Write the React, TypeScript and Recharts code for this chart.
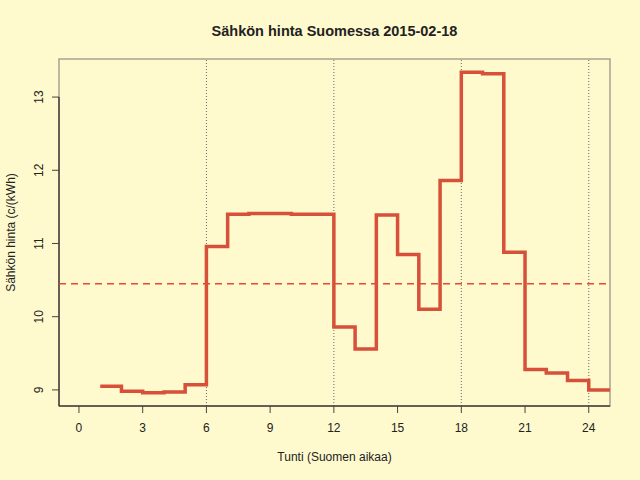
import React from "react";
import { LineChart, Line, XAxis, YAxis, ReferenceLine, ReferenceArea } from "recharts";

const hours = [1, 2, 3, 4, 5, 6, 7, 8, 9, 10, 11, 12, 13, 14, 15, 16, 17, 18, 19, 20, 21, 22, 23, 24, 25];
const prices = [
  9.05, 8.98, 8.96, 8.97, 9.07, 10.96, 11.4, 11.41, 11.41, 11.4, 11.4, 9.86,
  9.56, 11.39, 10.85, 10.1, 11.86, 13.34, 13.32, 10.88, 9.28, 9.23, 9.13, 9.0, 9.0,
];
const xTicks = [0, 3, 6, 9, 12, 15, 18, 21, 24];
const yTicks = [9, 10, 11, 12, 13];
const dottedHours = [6, 12, 18, 24];
const meanPrice = 10.45;
const titleText = "Sähkön hinta Suomessa 2015-02-18";
const xLabelText = "Tunti (Suomen aikaa)";
const yLabelText = "Sähkön hinta (c/(kWh)";

const X_DOMAIN: [number, number] = [-0.94, 25];
const Y_DOMAIN: [number, number] = [8.78, 13.52];

const data = hours.map((h, i) => ({ hour: h, price: prices[i] }));

const FONT = "'Liberation Sans', Arial, Helvetica, sans-serif";
const TEXT = "#222";
const DARK = "#4a423c";
const GRAY = "#a8a28e";
const BG = "#FFFACD";

const XTick = (props: any) => {
  const { x, payload } = props;
  return (
    <text x={x} y={432} textAnchor="middle" fontSize={12} fontFamily={FONT} fill={TEXT}>
      {payload.value}
    </text>
  );
};

const YTick = (props: any) => {
  const { y, payload } = props;
  return (
    <text
      x={43}
      y={y}
      textAnchor="middle"
      fontSize={12}
      fontFamily={FONT}
      fill={TEXT}
      transform={`rotate(-90, 43, ${y})`}
    >
      {payload.value}
    </text>
  );
};

export default function App() {
  return (
    <div style={{ position: "absolute", left: 0, top: 0, width: 640, height: 480, background: BG }}>
      <LineChart width={640} height={480} data={data} margin={{ top: 59, right: 30, left: 0, bottom: 0 }}>
        <ReferenceArea
          x1={X_DOMAIN[0]}
          x2={X_DOMAIN[1]}
          y1={Y_DOMAIN[0]}
          y2={Y_DOMAIN[1]}
          fill="none"
          fillOpacity={0}
          stroke={GRAY}
          strokeWidth={1.5}
          ifOverflow="visible"
        />
        <XAxis
          dataKey="hour"
          type="number"
          domain={X_DOMAIN}
          ticks={xTicks}
          interval={0}
          allowDataOverflow
          height={74}
          tickSize={7}
          axisLine={{ stroke: DARK, strokeWidth: 1.5 }}
          tickLine={{ stroke: DARK, strokeWidth: 1 }}
          tick={<XTick />}
        />
        <YAxis
          type="number"
          domain={Y_DOMAIN}
          ticks={yTicks}
          interval={0}
          allowDataOverflow
          width={59}
          tickSize={7}
          axisLine={false}
          tickLine={{ stroke: DARK, strokeWidth: 1 }}
          tick={<YTick />}
        />
        <ReferenceLine
          segment={[
            { x: X_DOMAIN[0], y: Y_DOMAIN[0] },
            { x: X_DOMAIN[0], y: 13 },
          ]}
          stroke={DARK}
          strokeWidth={1.5}
          ifOverflow="visible"
        />
        {dottedHours.map((h) => (
          <ReferenceLine key={h} x={h} stroke="#666" strokeWidth={1} strokeDasharray="1 2" />
        ))}
        <ReferenceLine y={meanPrice} stroke="#EC4436" strokeWidth={1.6} strokeDasharray="7 5" />
        <Line
          type="stepAfter"
          dataKey="price"
          stroke="#D6503A"
          strokeWidth={3.5}
          dot={false}
          isAnimationActive={false}
        />
      </LineChart>
      <svg
        width={640}
        height={480}
        style={{ position: "absolute", left: 0, top: 0, pointerEvents: "none" }}
      >
        <text x={334.5} y={36} textAnchor="middle" fontSize={14.5} fontWeight="bold" fontFamily={FONT} fill={TEXT}>
          {titleText}
        </text>
        <text x={334.5} y={461} textAnchor="middle" fontSize={12} fontFamily={FONT} fill={TEXT}>
          {xLabelText}
        </text>
        <text
          x={15}
          y={232.5}
          textAnchor="middle"
          fontSize={12}
          fontFamily={FONT}
          fill={TEXT}
          transform="rotate(-90, 15, 232.5)"
        >
          {yLabelText}
        </text>
      </svg>
    </div>
  );
}
